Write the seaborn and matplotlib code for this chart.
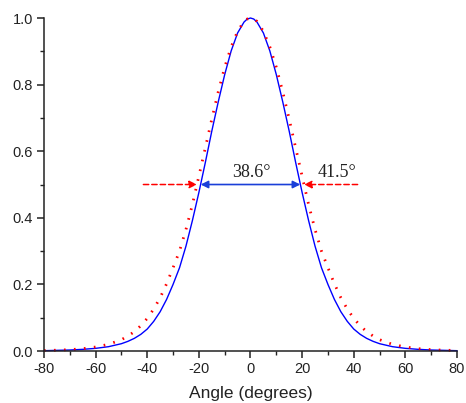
import matplotlib
matplotlib.use("Agg")
import matplotlib.pyplot as plt
import seaborn as sns
from matplotlib.ticker import MultipleLocator, FormatStrFormatter

angle = [-80, -75, -70, -65, -60, -55, -50, -47.5, -45, -42.5, -40, -37.5, -35, -32.5,
         -30, -27.5, -25, -22.5, -20, -17.5, -15, -12.5, -10, -7.5, -5, -2.5, -1.25,
         0, 1.25, 2.5, 5, 7.5, 10, 12.5, 15, 17.5, 20, 22.5, 25, 27.5, 30,
         32.5, 35, 37.5, 40, 42.5, 45, 47.5, 50, 55, 60, 65, 70, 75, 80]

blue_vals = [0.001, 0.002, 0.003, 0.005, 0.008, 0.013, 0.022, 0.029, 0.038, 0.050, 0.066, 0.089, 0.118, 0.155,
             0.200, 0.250, 0.315, 0.392, 0.476, 0.566, 0.660, 0.748, 0.830, 0.901, 0.955, 0.988, 0.997,
             1.000, 0.997, 0.988, 0.955, 0.901, 0.830, 0.748, 0.660, 0.566, 0.476, 0.392, 0.315, 0.250, 0.200,
             0.155, 0.118, 0.089, 0.066, 0.050, 0.038, 0.029, 0.022, 0.013, 0.008, 0.005, 0.003, 0.002, 0.001]

red_vals = [0.0015, 0.0025, 0.004, 0.007, 0.012, 0.020, 0.034, 0.045, 0.058, 0.076, 0.098, 0.126, 0.160, 0.202,
            0.250, 0.300, 0.365, 0.440, 0.525, 0.610, 0.696, 0.778, 0.852, 0.913, 0.960, 0.990, 0.997,
            1.000, 0.997, 0.990, 0.960, 0.913, 0.852, 0.778, 0.696, 0.610, 0.525, 0.440, 0.365, 0.300, 0.250,
            0.202, 0.160, 0.126, 0.098, 0.076, 0.058, 0.045, 0.034, 0.020, 0.012, 0.007, 0.004, 0.0025, 0.0015]

fwhm_blue = 38.6
fwhm_red = 41.5
half = 0.5

sns.set_style("ticks")
plt.rcParams['font.family'] = ['Liberation Sans', 'DejaVu Sans']
plt.rcParams['axes.unicode_minus'] = False

fig = plt.figure(figsize=(4.66, 4.03), dpi=100)
ax = fig.add_axes([0.0944, 0.129, 0.8863, 0.8263])

sns.lineplot(x=angle, y=blue_vals, ax=ax, color='#0000ff', linewidth=1.0, clip_on=False)
sns.lineplot(x=angle, y=red_vals, ax=ax, color='#ff0000', linewidth=2.0, clip_on=False)
ax.lines[1].set_dashes((0.6, 3.0))

# FWHM markers
blue_c = '#1a3fd8'
ax.annotate('', xy=(fwhm_blue / 2, half), xytext=(-fwhm_blue / 2, half),
            arrowprops=dict(arrowstyle='<|-|>', color=blue_c, lw=1.2,
                            mutation_scale=11, shrinkA=0, shrinkB=0))
ax.annotate('', xy=(-fwhm_red / 2, half), xytext=(-41.5, half),
            arrowprops=dict(arrowstyle='-|>', color='#ff0000', lw=1.1, ls=(0, (3.5, 2)),
                            mutation_scale=11, shrinkA=0, shrinkB=0))
ax.annotate('', xy=(fwhm_red / 2, half), xytext=(41.5, half),
            arrowprops=dict(arrowstyle='-|>', color='#ff0000', lw=1.1, ls=(0, (3.5, 2)),
                            mutation_scale=11, shrinkA=0, shrinkB=0))
ax.text(0.3, 0.512, f"{fwhm_blue}°", ha='center', va='bottom',
        fontsize=13, family='Liberation Serif', color='#222222')
ax.text(33.4, 0.512, f"{fwhm_red}°", ha='center', va='bottom',
        fontsize=13, family='Liberation Serif', color='#222222')

ax.set_xlim(-80, 80)
ax.set_ylim(0, 1.0)
ax.xaxis.set_major_locator(MultipleLocator(20))
ax.xaxis.set_minor_locator(MultipleLocator(10))
ax.yaxis.set_major_locator(MultipleLocator(0.2))
ax.yaxis.set_minor_locator(MultipleLocator(0.1))
ax.yaxis.set_major_formatter(FormatStrFormatter('%.1f'))
ax.tick_params(which='major', length=5, width=1.1, labelsize=10.5, colors='#222222', pad=3)
ax.tick_params(which='minor', length=3, width=1.0, colors='#222222')
ax.set_xlabel('Angle (degrees)', fontsize=12.5, color='#222222', labelpad=7)
ax.set_ylabel('')
for s in ['left', 'bottom']:
    ax.spines[s].set_linewidth(1.1)
    ax.spines[s].set_color('#222222')
sns.despine(ax=ax)

fig.savefig('out.png', dpi=100)
